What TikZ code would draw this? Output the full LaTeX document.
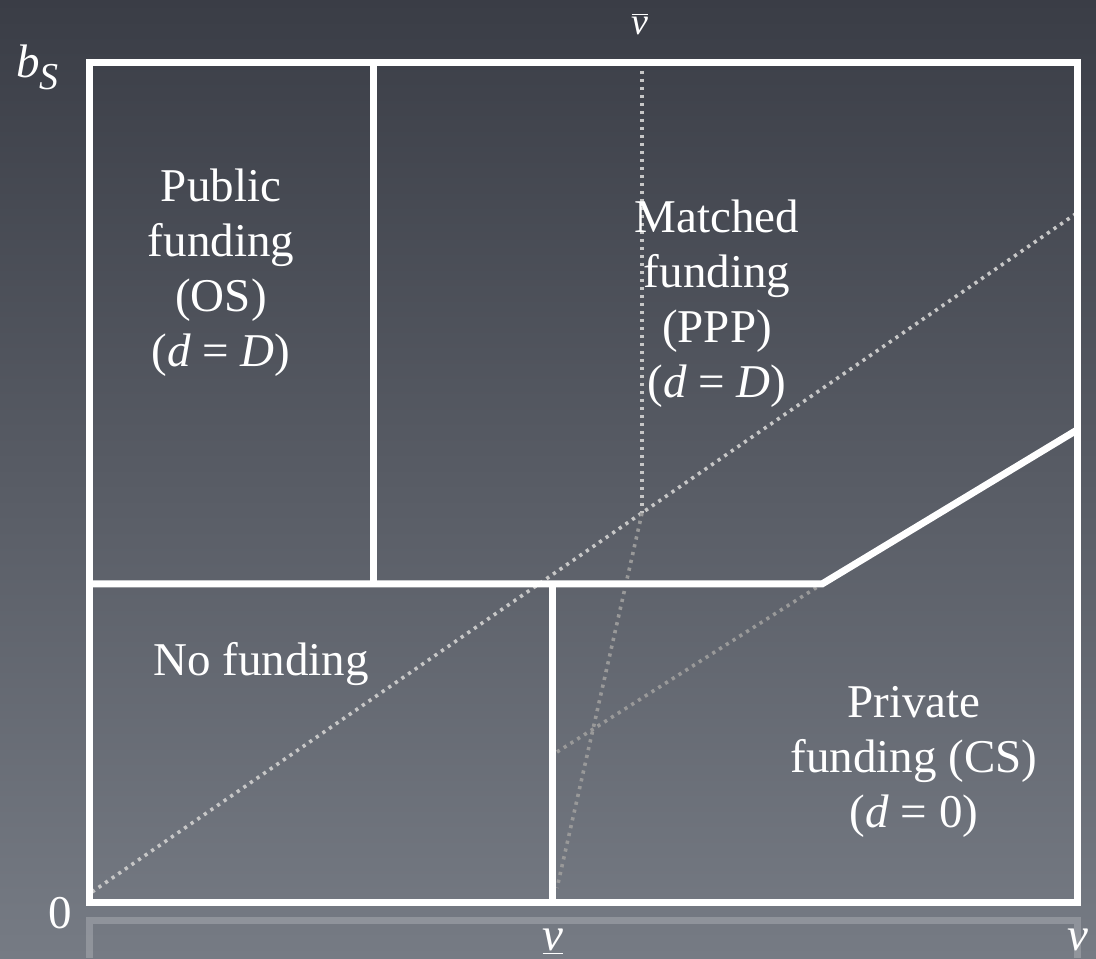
\documentclass[tikz,border=0pt]{standalone}
\usepackage{fontspec}
\setmainfont{Liberation Serif}

\definecolor{slatetop}{RGB}{58,61,70}
\definecolor{slatebottom}{RGB}{118,123,132}

\begin{document}
\begin{tikzpicture} [
                x=0.5pt, y=0.5pt,
                wall/.style={
                    draw=white,
                    line width=3.5pt
                },
                trace/.style={
                    draw=white!78!black,
                    line width=1.8pt,
                    dash pattern=on 1.6pt off 2.4pt
                },
                fainttrace/.style={
                    trace,
                    draw=white!60!black
                },
                regionlabel/.style={
                    text=white,
                    align=center,
                    inner sep=0pt,
                    font=\fontsize{23.5}{27.5}\selectfont
                },
                axislabel/.style={
                    text=white,
                    inner sep=0pt,
                    font=\fontsize{23.5}{27.5}\selectfont
                }
            ]
                \shade[top color=slatetop, bottom color=slatebottom] (0,0) rectangle (1096,958);
                \useasboundingbox (0,0) rectangle (1096,958);

                \coordinate (origin) at (89,56);
                \coordinate (topright) at (1077,895);
                \coordinate (midleft) at (89,374);
                \coordinate (ostop) at (373,895);
                \coordinate (osfoot) at (373,374);
                \coordinate (vlowtop) at (552,374);
                \coordinate (vlowfoot) at (552,56);
                \coordinate (kink) at (822,374);
                \coordinate (rightend) at (1077,528);

                \coordinate (diag0) at (92,66);
                \coordinate (diag1) at (1077,745);
                \coordinate (vbartop) at (642,895);
                \coordinate (vbarcut) at (642,445);
                \coordinate (vbarfoot) at (557,70);
                \coordinate (lowstart) at (557,206);

                \draw[trace] (diag0) -- (diag1);
                \draw[trace] (vbartop) -- (vbarcut);
                \draw[fainttrace] (vbarcut) -- (vbarfoot);
                \draw[fainttrace] (lowstart) -- (kink);

                \draw[wall] (origin) rectangle (topright);
                \draw[wall] (ostop) -- (osfoot);
                \draw[wall] (midleft) -- (kink) -- (rightend);
                \draw[wall] (vlowtop) -- (vlowfoot);

                \draw[wall, opacity=0.2] (89,0) -- (89,38) -- (1077,38) -- (1077,0);

                \node[regionlabel] (public)  at (221,685)   {Public\\funding\\(OS)\\(\textit{d} = \textit{D})};
                \node[regionlabel] (matched) at (717,654.5) {Matched\\funding\\(PPP)\\(\textit{d} = \textit{D})};
                \node[regionlabel] (nofund)  at (261,294)   {No funding};
                \node[regionlabel] (private) at (914,196)   {Private\\funding (CS)\\(\textit{d} = 0)};

                \node[axislabel, anchor=base west] (bs)   at (16,880)  {\textit{b}\raisebox{-6pt}{\fontsize{19}{19}\selectfont\textit{S}}};
                \node[axislabel, anchor=base]      (zero) at (60,30)   {0};
                \node[axislabel, anchor=base]      (vlow) at (553,8)   {\underline{\textit{v}}};
                \node[axislabel, anchor=base]      (vmax) at (1078,8)  {\textit{v}};
                \node[axislabel, anchor=base]      (vbar) at (640,923) {\fontsize{19}{19}\selectfont$\overline{\mbox{\textit{v}}}$};
            \end{tikzpicture}
\end{document}
